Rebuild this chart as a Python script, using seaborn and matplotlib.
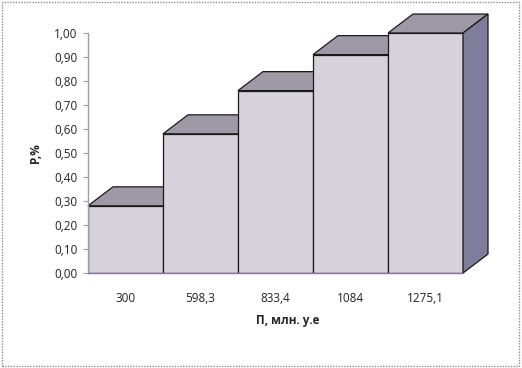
import matplotlib

matplotlib.use("Agg")

import matplotlib.pyplot as plt
import numpy as np
import pandas as pd
import seaborn as sns
from matplotlib.patches import Polygon, Rectangle
from matplotlib.ticker import FuncFormatter, MultipleLocator

categories = ["300", "598,3", "833,4", "1084", "1275,1"]
values = [0.28, 0.58, 0.76, 0.91, 1.00]
x_label = "П, млн. у.е"
y_label = "P,%"

FRONT = "#d5d2dc"
TOP = "#9e98a7"
SIDE = "#807c9c"
EDGE = "#1a1a1a"
DEPTH_X = 0.333
DEPTH_Y = 0.079


def _apply_theme() -> None:
    sns.set_theme(style="white", rc={"axes.facecolor": "white", "figure.facecolor": "white"})
    plt.rcParams["font.family"] = ["Open Sans", "DejaVu Sans"]


def build_figure() -> plt.Figure:
    _apply_theme()
    frame = pd.DataFrame({"category": categories, "value": values})

    figure = plt.figure(figsize=(5.22, 3.68), dpi=100)
    axis = figure.add_axes([88 / 522, 1 - 273 / 368, 400 / 522, 240 / 368])

    sns.barplot(
        data=frame,
        x="category",
        y="value",
        color=FRONT,
        saturation=1,
        width=1.0,
        edgecolor=EDGE,
        linewidth=0.9,
        ax=axis,
        zorder=2,
    )

    # top faces, drawn back to front
    for idx, val in enumerate(values):
        left, right = idx - 0.5, idx + 0.5
        top_face = Polygon(
            [(left, val), (right, val), (right + DEPTH_X, val + DEPTH_Y), (left + DEPTH_X, val + DEPTH_Y)],
            closed=True, facecolor=TOP, edgecolor=EDGE, linewidth=0.9, clip_on=False, zorder=1,
        )
        axis.add_patch(top_face)

    # right side of the last bar
    last = len(values) - 1
    side = Polygon(
        [(last + 0.5, 0), (last + 0.5 + DEPTH_X, DEPTH_Y),
         (last + 0.5 + DEPTH_X, values[last] + DEPTH_Y), (last + 0.5, values[last])],
        closed=True, facecolor=SIDE, edgecolor=EDGE, linewidth=0.9, clip_on=False, zorder=3,
    )
    axis.add_patch(side)

    axis.set_xlim(-0.5, last + 0.5 + DEPTH_X)
    axis.set_ylim(0, 1.0)
    axis.yaxis.set_major_locator(MultipleLocator(0.1))
    axis.yaxis.set_major_formatter(FuncFormatter(lambda v, _: f"{v:.2f}".replace(".", ",")))

    for name in ["top", "right", "bottom"]:
        axis.spines[name].set_visible(False)
    axis.spines["left"].set_color("#a0a0a0")
    axis.spines["left"].set_linewidth(1.0)
    axis.plot([-0.5, last + 0.5], [0, 0], color="#8a74a0", linewidth=1.0, zorder=4, clip_on=False)

    axis.tick_params(axis="y", left=True, length=3.6, width=0.8, color="#a0a0a0", labelsize=8.5, pad=4, labelcolor="#222222")
    axis.tick_params(axis="x", bottom=False, labelsize=8.5, pad=8, labelcolor="#222222")

    axis.set_xlabel(x_label, fontsize=8.5, fontweight="bold", labelpad=6)
    axis.set_ylabel(y_label, fontsize=8.5, fontweight="bold", labelpad=9)

    border = Rectangle(
        (0.003, 0.005), 0.992, 0.99, transform=figure.transFigure, fill=False,
        edgecolor="#8c8c8c", linewidth=1.0, linestyle=(0, (1, 1)),
    )
    figure.patches.append(border)
    return figure


figure = build_figure()
figure.savefig("out.png", dpi=100)
plt.close(figure)
